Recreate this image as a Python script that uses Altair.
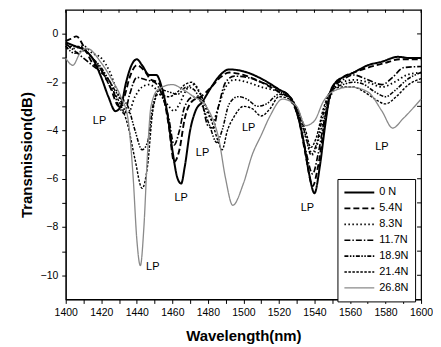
import altair as alt
import pandas as pd

series_names = ["0  N", "5.4N", "8.3N", "11.7N", "18.9N", "21.4N", "26.8N"]

wl_0 = [1400,1405,1410,1415,1420,1424,1428,1431,1434,1437,1440,1443,1447,1451,1454,1457,1460,1463,1465,1467,1470,1473,1477,1482,1487,1492,1500,1510,1520,1526,1530,1534,1537,1540,1543,1546,1549,1552,1556,1562,1570,1578,1587,1594,1600]
tr_0 = [-0.35,-0.5,-0.65,-1.0,-1.8,-2.6,-3.2,-3.0,-2.0,-1.3,-1.05,-1.3,-1.7,-1.7,-2.2,-3.2,-4.8,-6.0,-6.2,-5.5,-4.0,-3.2,-2.8,-2.2,-1.7,-1.47,-1.55,-1.85,-2.3,-2.6,-3.2,-4.5,-5.8,-6.6,-5.5,-3.8,-2.4,-2.0,-1.8,-1.6,-1.3,-1.15,-0.95,-1.0,-1.0]

wl_5 = [1400,1403,1406,1410,1415,1420,1425,1430,1433,1436,1440,1444,1448,1452,1455,1458,1461,1464,1467,1471,1476,1482,1487,1492,1500,1510,1520,1526,1531,1535,1539,1542,1546,1550,1556,1562,1570,1580,1588,1600]
tr_5 = [-0.3,-0.2,-0.1,-0.5,-1.2,-1.5,-2.2,-3.0,-2.6,-1.8,-1.3,-1.5,-1.9,-2.0,-2.6,-3.8,-5.3,-4.8,-3.5,-2.8,-2.6,-2.2,-1.8,-1.6,-1.7,-2.0,-2.4,-2.7,-3.5,-5.0,-6.3,-5.5,-3.6,-2.3,-1.8,-1.6,-1.4,-1.2,-1.05,-1.05]

wl_8 = [1400,1405,1410,1415,1420,1425,1430,1435,1439,1443,1447,1451,1455,1458,1461,1464,1468,1472,1476,1480,1483,1486,1490,1495,1502,1510,1520,1527,1532,1536,1539,1543,1547,1551,1556,1562,1570,1578,1585,1592,1600]
tr_8 = [-0.5,-0.6,-0.5,-0.8,-1.0,-1.6,-2.6,-3.3,-2.6,-2.2,-2.1,-2.3,-2.7,-3.0,-3.2,-2.9,-2.3,-2.1,-2.5,-3.3,-3.6,-3.0,-2.2,-1.9,-2.0,-2.2,-2.4,-2.7,-3.5,-4.5,-5.0,-4.2,-3.0,-2.3,-2.0,-1.9,-2.0,-2.2,-2.0,-1.7,-1.6]

wl_11 = [1400,1405,1410,1415,1420,1425,1430,1433,1436,1440,1445,1450,1454,1458,1461,1464,1467,1472,1476,1480,1483,1486,1490,1495,1502,1510,1520,1526,1531,1535,1539,1542,1546,1550,1556,1562,1570,1578,1584,1590,1600]
tr_11 = [-0.4,-0.7,-1.0,-1.3,-1.6,-2.0,-3.0,-3.3,-2.5,-1.8,-1.9,-2.0,-2.5,-3.5,-4.6,-4.0,-3.0,-2.6,-2.7,-3.8,-3.9,-3.0,-2.0,-1.75,-1.8,-2.0,-2.3,-2.6,-3.5,-4.8,-5.8,-5.0,-3.4,-2.3,-1.9,-1.7,-1.9,-2.1,-1.8,-1.4,-1.35]

wl_18 = [1400,1405,1410,1415,1420,1425,1430,1435,1439,1443,1446,1449,1453,1458,1463,1468,1472,1477,1481,1485,1488,1492,1497,1502,1508,1513,1520,1526,1531,1535,1538,1541,1545,1550,1556,1562,1568,1574,1580,1586,1592,1600]
tr_18 = [-0.5,-0.8,-0.7,-1.0,-1.4,-2.0,-2.6,-3.0,-4.0,-4.8,-4.5,-3.0,-2.3,-2.4,-2.5,-2.2,-2.3,-3.0,-3.8,-4.5,-4.0,-2.9,-2.6,-2.7,-3.0,-2.9,-2.5,-2.6,-3.3,-4.2,-5.0,-4.6,-3.3,-2.3,-2.1,-2.0,-2.1,-2.4,-2.6,-2.3,-1.9,-1.6]

wl_21 = [1400,1405,1410,1415,1420,1425,1430,1435,1439,1443,1446,1449,1452,1458,1463,1467,1471,1475,1479,1483,1486,1488,1491,1495,1500,1505,1510,1515,1520,1526,1531,1535,1538,1541,1545,1550,1556,1562,1568,1574,1580,1586,1593,1600]
tr_21 = [-0.6,-0.5,-0.6,-1.0,-1.5,-2.2,-2.8,-3.8,-5.2,-6.4,-5.5,-3.2,-2.5,-2.6,-2.4,-2.1,-2.0,-2.4,-3.0,-3.8,-4.5,-4.8,-4.0,-3.4,-3.0,-3.1,-3.4,-3.1,-2.6,-2.7,-3.2,-4.0,-4.7,-4.3,-3.1,-2.3,-2.2,-2.2,-2.4,-2.7,-2.9,-2.6,-2.1,-1.85]

wl_26 = [1400,1404,1408,1412,1420,1426,1431,1435,1438,1440,1442,1444,1446,1448,1452,1460,1466,1472,1478,1482,1486,1490,1494,1500,1505,1510,1515,1522,1530,1535,1540,1545,1550,1560,1570,1578,1584,1590,1600]
tr_26 = [-1.0,-1.3,-0.8,-0.6,-1.2,-1.9,-2.6,-3.5,-6.0,-8.5,-9.6,-8.0,-5.0,-3.0,-2.3,-2.1,-2.3,-2.6,-2.9,-3.4,-4.3,-6.0,-7.1,-6.2,-5.0,-4.2,-3.4,-2.7,-3.0,-3.8,-3.6,-2.8,-2.4,-2.2,-2.4,-3.2,-3.9,-3.5,-2.7]

lp_wl = [1419, 1449, 1465, 1477, 1503, 1536, 1578]
lp_tr = [-3.6, -9.65, -6.8, -4.95, -3.9, -7.2, -4.7]
lp_text = ["LP", "LP", "LP", "LP", "LP", "LP", "LP"]

x_ticks = list(range(1400, 1601, 10))
y_ticks = list(range(-10, 1))

all_wl = [wl_0, wl_5, wl_8, wl_11, wl_18, wl_21, wl_26]
all_tr = [tr_0, tr_5, tr_8, tr_11, tr_18, tr_21, tr_26]
rows = []
for name, xs, ys in zip(series_names, all_wl, all_tr):
    for xv, yv in zip(xs, ys):
        rows.append({"series": name, "wl": xv, "tr": yv})
df = pd.DataFrame(rows)

xscale = alt.Scale(domain=[1400, 1600], nice=False, zero=False)
yscale = alt.Scale(domain=[-11, 1], nice=False, zero=False)

x_axis = alt.Axis(title="Wavelength(nm)", values=x_ticks, format="d", labelOverlap=False,
                  labelFlush=False, labelExpr="datum.value % 20 == 0 ? datum.label : ''")
y_axis = alt.Axis(title="Transmission(dB)", values=y_ticks, labelOverlap=False,
                  labelFlush=False, labelExpr="datum.value % 2 == 0 ? datum.label : ''")

dashes = [[1, 0], [6, 3], [1.5, 2.5], [6, 2, 1.5, 2], [4, 1.5, 1.5, 1.5, 1.5, 1.5], [2.5, 1.5], [1, 0]]
colors = ["#000000"] * 6 + ["#8a8a8a"]
widths = [2.0, 1.3, 1.3, 1.3, 1.3, 1.3, 0.9]

legend = alt.Legend(
    title=None, orient="none", legendX=273, legendY=170,
    symbolType="stroke", symbolSize=900, clipHeight=15,
    labelFont="Liberation Sans", labelFontSize=11, labelColor="#000",
    strokeColor="#000", padding=6, fillColor="white", rowPadding=1,
)

lines = alt.Chart(df).mark_line(interpolate="monotone").encode(
    x=alt.X("wl:Q", scale=xscale, axis=x_axis),
    y=alt.Y("tr:Q", scale=yscale, axis=y_axis),
    color=alt.Color("series:N", sort=series_names,
                    scale=alt.Scale(domain=series_names, range=colors), legend=legend),
    strokeDash=alt.StrokeDash("series:N", sort=series_names,
                              scale=alt.Scale(domain=series_names, range=dashes), legend=legend),
    strokeWidth=alt.StrokeWidth("series:N", sort=series_names,
                                scale=alt.Scale(domain=series_names, range=widths), legend=legend),
    detail="series:N",
)

lab_df = pd.DataFrame({"wl": lp_wl, "tr": lp_tr, "t": lp_text})
labels = alt.Chart(lab_df).mark_text(font="Liberation Sans", fontSize=11, color="#000").encode(
    x=alt.X("wl:Q", scale=xscale, axis=x_axis), y=alt.Y("tr:Q", scale=yscale, axis=y_axis), text="t:N")

top_ticks = alt.Chart(pd.DataFrame({"wl": x_ticks})).mark_rule(color="#000").encode(
    x=alt.X("wl:Q", scale=xscale, axis=x_axis), y=alt.value(0), y2=alt.value(3))
right_ticks = alt.Chart(pd.DataFrame({"tr": y_ticks})).mark_rule(color="#000").encode(
    y=alt.Y("tr:Q", scale=yscale, axis=y_axis), x=alt.value(357), x2=alt.value(353))

chart = alt.layer(lines, labels, top_ticks, right_ticks).properties(
    width=357, height=291, padding={"top": 0, "left": 11, "right": 0, "bottom": 0}
).configure_view(stroke="#000", strokeWidth=1.2).configure_axis(
    labelFont="Liberation Sans", labelFontSize=10.5, labelColor="#000",
    titleFont="Liberation Sans", titleFontSize=15, titleFontWeight="bold", titleColor="#000",
    domainColor="#000", tickColor="#000", tickSize=4, grid=False, labelPadding=4,
    labelOverlap=False, labelFlush=False,
).configure_axisX(titlePadding=11).configure_axisY(titlePadding=6)

chart.save("out.html", embed_options={"renderer": "svg", "actions": False})
